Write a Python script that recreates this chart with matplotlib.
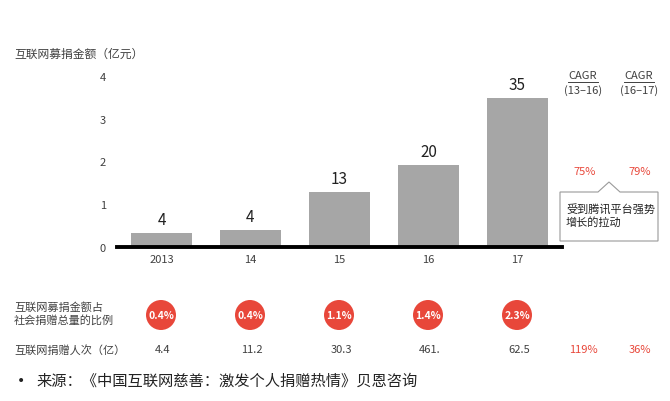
import matplotlib
matplotlib.use("Agg")
from matplotlib import pyplot as plt
from matplotlib.patches import Polygon, Ellipse
from matplotlib.lines import Line2D

plt.rcParams['font.family'] = ['Noto Sans CJK SC', 'DejaVu Sans']

# data
years = ["2013", "14", "15", "16", "17"]
bar_heights = [0.33, 0.40, 1.29, 1.92, 3.49]
bar_labels = ["4", "4", "13", "20", "35"]
share_labels = ["0.4%", "0.4%", "1.1%", "1.4%", "2.3%"]
donors = ["4.4", "11.2", "30.3", "461.", "62.5"]
cagr_periods = ["(13–16)", "(16–17)"]
cagr_amount = ["75%", "79%"]
cagr_donors = ["119%", "36%"]

W, H = 670, 402
GREY = "#a6a6a6"
TXT = "#404040"
RED = "#e8473a"


def px(x, y):
    return x / W, 1 - y / H


fig = plt.figure(figsize=(6.7, 4.02), dpi=100)
ax = fig.add_axes([117 / W, (H - 248) / H, 445 / W, 171 / H])
xs = list(range(len(years)))
bars = ax.bar(xs, bar_heights, width=0.69, color=GREY)
ax.set_xlim(-0.5, 4.5)
ax.set_ylim(0, 4)
for s in ["top", "right", "left"]:
    ax.spines[s].set_visible(False)
ax.spines["bottom"].set_linewidth(2.8)
ax.spines["bottom"].set_color("black")
ax.set_yticks([0, 1, 2, 3, 4])
ax.tick_params(axis="y", length=0, pad=8, labelsize=8, labelcolor=TXT)
ax.set_xticks(xs)
ax.set_xticklabels(years)
ax.tick_params(axis="x", length=0, pad=5, labelsize=8, labelcolor=TXT)
for x, h, lab in zip(xs, bar_heights, bar_labels):
    ax.text(x, h + 0.12, lab, ha="center", va="bottom", fontsize=11, color="#222222")

fig.text(*px(14, 54), "互联网募捐金额（亿元）", fontsize=8.5, color=TXT, va="center")

# CAGR headers
for cx, per in zip([583, 639], cagr_periods):
    fig.text(*px(cx, 76), "CAGR", fontsize=8, color=TXT, ha="center", va="center")
    fig.text(*px(cx, 91), per, fontsize=8, color=TXT, ha="center", va="center")
    x0, y0 = px(cx - 15, 83)
    x1, _ = px(cx + 15, 83)
    fig.add_artist(Line2D([x0, x1], [y0, y0], color=TXT, lw=0.7,
                          transform=fig.transFigure))
for cx, v in zip([585, 640], cagr_amount):
    fig.text(*px(cx, 172), v, fontsize=8, color=RED, ha="center", va="center")

# callout
pts = [(560, 193), (598, 193), (609, 183), (620, 193), (658, 193), (658, 242), (560, 242)]
poly = Polygon([px(x, y) for x, y in pts], closed=True, transform=fig.transFigure,
               facecolor="white", edgecolor="#9a9a9a", lw=0.8)
fig.add_artist(poly)
fig.text(*px(566, 216), "受到腾讯平台强势\n增长的拉动", fontsize=8, color="#222222",
         va="center", linespacing=1.3)

# share row
fig.text(*px(14, 314), "互联网募捐金额占\n社会捐赠总量的比例", fontsize=8, color=TXT,
         va="center", linespacing=1.3)
for x, lab in zip(xs, share_labels):
    cx = 161 + 89 * x
    cxf, cyf = px(cx, 316)
    fig.add_artist(Ellipse((cxf, cyf), 30 / W, 30 / H, transform=fig.transFigure,
                           facecolor=RED, edgecolor="none"))
    fig.text(cxf, cyf, lab, fontsize=7.5, color="white", weight="bold",
             ha="center", va="center")

# donors row
fig.text(*px(14, 350), "互联网捐赠人次（亿）", fontsize=8, color=TXT, va="center")
for x, lab in zip(xs, donors):
    fig.text(*px(163 + 89 * x, 350), lab, fontsize=8, color=TXT, ha="center", va="center")
for cx, v in zip([583, 640], cagr_donors):
    fig.text(*px(cx, 350), v, fontsize=8, color=RED, ha="center", va="center")

# source
fig.text(*px(17, 381), "•", fontsize=10, color="#222222", va="center", family="DejaVu Sans")
fig.text(*px(36, 381), "来源：《中国互联网慈善：激发个人捐赠热情》贝恩咨询", fontsize=11,
         color="#222222", va="center")

fig.savefig("out.png", dpi=100)
